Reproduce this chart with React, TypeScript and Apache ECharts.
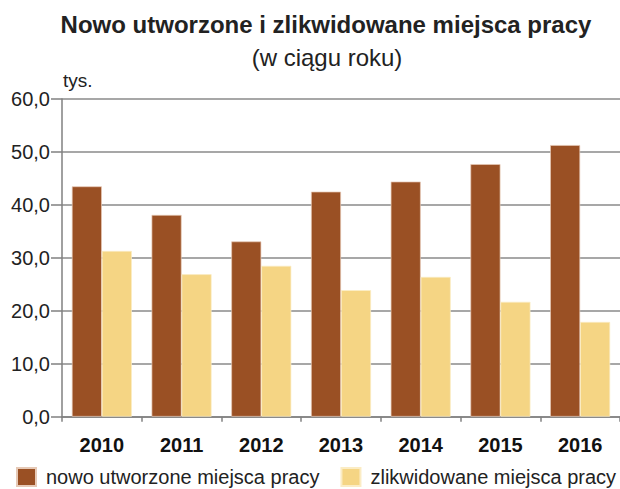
import React, { useEffect, useRef } from "react";
import * as echarts from "echarts";

const years = ["2010", "2011", "2012", "2013", "2014", "2015", "2016"];
const created = [43.5, 38.1, 33.1, 42.5, 44.4, 47.7, 51.3];
const liquidated = [31.3, 26.9, 28.5, 23.9, 26.4, 21.7, 17.9];
const seriesNames = ["nowo utworzone miejsca pracy", "zlikwidowane miejsca pracy"];

const FONT = "'Liberation Sans', Arial, sans-serif";

export default function App() {
  const ref = useRef<HTMLDivElement>(null);
  useEffect(() => {
    if (!ref.current) return;
    const chart = echarts.init(ref.current, undefined, { renderer: "svg" });
    chart.setOption({
      animation: false,
      backgroundColor: "#ffffff",
      textStyle: { fontFamily: FONT },
      title: [
        {
          text: "Nowo utworzone i zlikwidowane miejsca pracy",
          left: 326,
          textAlign: "center",
          top: 10,
          padding: 0,
          textStyle: { fontFamily: FONT, fontSize: 24, lineHeight: 28, fontWeight: "bold", color: "#222222" },
        },
        {
          text: "(w ciągu roku)",
          left: 327,
          textAlign: "center",
          top: 43,
          padding: 0,
          textStyle: { fontFamily: FONT, fontSize: 24, lineHeight: 28, fontWeight: "normal", color: "#222222" },
        },
      ],
      graphic: [
        {
          type: "text",
          left: 63,
          top: 71,
          style: { text: "tys.", fontFamily: FONT, fontSize: 19, fill: "#222222" },
        },
      ],
      legend: {
        left: 16,
        top: 467,
        padding: 0,
        itemWidth: 19,
        itemHeight: 18,
        itemGap: 21,
        icon: "rect",
        textStyle: { fontFamily: FONT, fontSize: 20, lineHeight: 20, color: "#222222", padding: [0, 0, 0, 5] },
        data: seriesNames,
      },
      grid: { left: 62, top: 99, width: 561, height: 317.7, containLabel: false },
      xAxis: {
        type: "category",
        data: years,
        axisLine: { show: true, lineStyle: { color: "#808080", width: 1.5 } },
        axisTick: { show: true, length: 5, lineStyle: { color: "#808080", width: 1.5 } },
        axisLabel: { fontFamily: FONT, fontSize: 20, fontWeight: "bold", color: "#111111", margin: 18 },
      },
      yAxis: {
        type: "value",
        min: 0,
        max: 60,
        interval: 10,
        axisLine: { show: true, lineStyle: { color: "#808080", width: 1.5 } },
        axisTick: { show: true, length: 11, lineStyle: { color: "#808080", width: 1.5 } },
        axisLabel: {
          fontFamily: FONT,
          fontSize: 20,
          color: "#222222",
          margin: 12,
          formatter: (v: number) => v.toFixed(1).replace(".", ","),
        },
        splitLine: { show: true, lineStyle: { color: "#8a8a8a", width: 1.5 } },
      },
      series: [
        {
          name: seriesNames[0],
          type: "bar",
          data: created,
          barWidth: 30,
          barGap: "0%",
          itemStyle: { color: "#9a5024", borderColor: "#e6c9b6", borderWidth: 0.7 },
        },
        {
          name: seriesNames[1],
          type: "bar",
          data: liquidated,
          barWidth: 30,
          barGap: "0%",
          itemStyle: { color: "#f5d584", borderColor: "#fbecc4", borderWidth: 0.7 },
        },
      ],
    });
    return () => chart.dispose();
  }, []);
  return (
    <div
      ref={ref}
      style={{ position: "fixed", left: 0, top: 0, width: 620, height: 489, overflow: "hidden" }}
    />
  );
}
